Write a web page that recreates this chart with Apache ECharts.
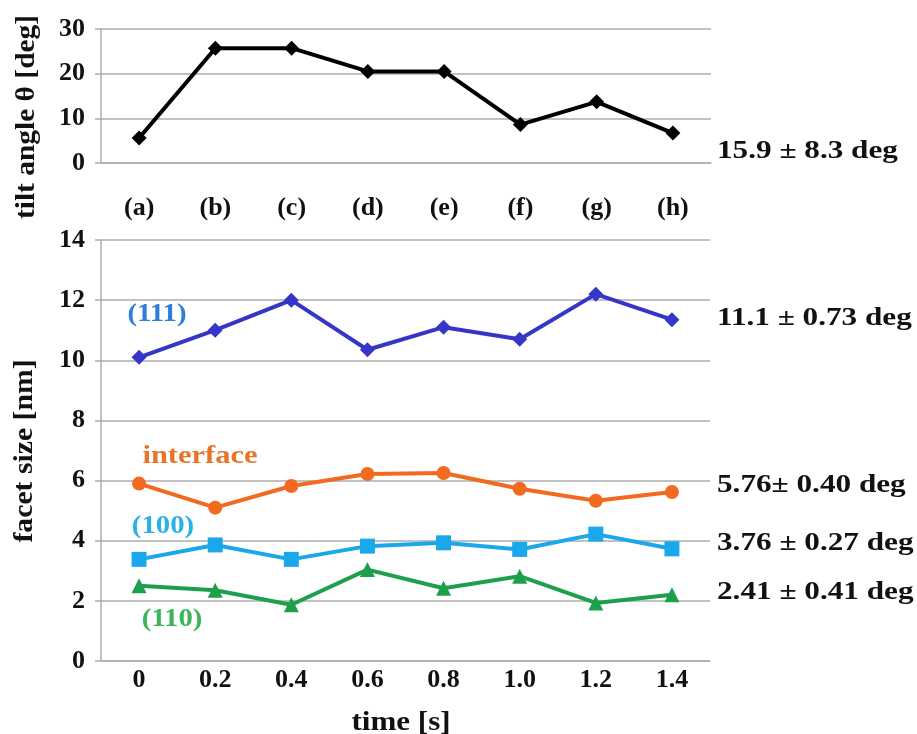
<!DOCTYPE html>
<html>
<head>
<meta charset="utf-8">
<script src="https://cdn.jsdelivr.net/npm/echarts@6/dist/echarts.min.js"></script>
<style>
html,body{margin:0;padding:0;background:#fff;}
#chart{width:917px;height:734px;}
</style>
</head>
<body>
<div id="chart"></div>
<script>
// ---- data ----
var tiltCategories = ['(a)','(b)','(c)','(d)','(e)','(f)','(g)','(h)'];
var tiltAngle = [5.6, 25.7, 25.7, 20.5, 20.5, 8.6, 13.7, 6.7];
var timeLabels = ['0','0.2','0.4','0.6','0.8','1.0','1.2','1.4'];
var facet111 = [10.1, 11.0, 12.0, 10.35, 11.1, 10.7, 12.2, 11.35];
var facetInterface = [5.9, 5.1, 5.82, 6.22, 6.25, 5.73, 5.33, 5.62];
var facet100 = [3.38, 3.86, 3.38, 3.82, 3.93, 3.71, 4.22, 3.73];
var facet110 = [2.5, 2.35, 1.87, 3.04, 2.42, 2.82, 1.93, 2.2];
var annotations = ['15.9 \u00b1 8.3 deg','11.1 \u00b1 0.73 deg','5.76\u00b1 0.40 deg','3.76 \u00b1 0.27 deg','2.41 \u00b1 0.41 deg'];

var FF = '"Liberation Serif","Times New Roman",serif';
var gridGray = '#adadad';
var tickFont = {fontFamily: FF, fontWeight: 'bold', fontSize: 26, color: '#111'};

function yAx(gi, min, max, interval){
  return {
    type: 'value', gridIndex: gi, min: min, max: max, interval: interval,
    axisLine: {show: true, lineStyle: {color: gridGray, width: 1.5}},
    axisTick: {show: true, length: 6, lineStyle: {color: gridGray, width: 1.5}},
    splitLine: {show: true, lineStyle: {color: gridGray, width: 1.5}},
    axisLabel: Object.assign({margin: 16}, tickFont)
  };
}
function xAx(gi, data, margin){
  return {
    type: 'category', gridIndex: gi, data: data, boundaryGap: true,
    axisLine: {show: true, lineStyle: {color: gridGray, width: 1.5}},
    axisTick: {show: false},
    splitLine: {show: false},
    axisLabel: Object.assign({margin: margin}, tickFont, {fontSize: 26})
  };
}
function lineSeries(name, data, color, symbol, size, xi){
  return {
    name: name, type: 'line', xAxisIndex: xi, yAxisIndex: xi, data: data,
    symbol: symbol, symbolSize: size, showAllSymbol: true,
    lineStyle: {color: color, width: 4},
    itemStyle: {color: color},
    z: 5
  };
}
function txt(x, y, text, color, size, align, rot, sx){
  return {
    type: 'text', x: x, y: y, rotation: rot || 0, scaleX: sx || 1, z: 10,
    style: {text: text, fill: color, font: 'bold ' + size + 'px ' + FF,
      textAlign: align || 'left', textVerticalAlign: 'middle'}
  };
}

var chart = echarts.init(document.getElementById('chart'), null, {renderer: 'canvas'});
chart.setOption({
  backgroundColor: '#fff',
  animation: false,
  grid: [
    {left: 101, right: 206, top: 29, height: 134},
    {left: 101, right: 207, top: 240, height: 421}
  ],
  xAxis: [ xAx(0, tiltCategories, 32), xAx(1, timeLabels, 6) ],
  yAxis: [ yAx(0, 0, 30, 10), yAx(1, 0, 14, 2) ],
  series: [
    lineSeries('tilt', tiltAngle, '#000000', 'diamond', 15, 0),
    lineSeries('(111)', facet111, '#3535c8', 'diamond', 15, 1),
    lineSeries('interface', facetInterface, '#f26a1f', 'circle', 14, 1),
    lineSeries('(100)', facet100, '#1ba8ea', 'rect', 15, 1),
    lineSeries('(110)', facet110, '#1e9f4c', 'triangle', 15, 1)
  ],
  graphic: [
    txt(27, 117, 'tilt angle \u03b8 [deg]', '#111', 27, 'center', Math.PI/2, 1.09),
    txt(25, 451, 'facet size [nm]', '#111', 27, 'center', Math.PI/2, 1.1),
    txt(401, 723, 'time [s]', '#111', 27, 'center', 0, 1.15),
    txt(717, 151, annotations[0], '#111', 26, 'left', 0, 1.2),
    txt(717, 318, annotations[1], '#111', 26, 'left', 0, 1.2),
    txt(717, 485, annotations[2], '#111', 26, 'left', 0, 1.2),
    txt(717, 543, annotations[3], '#111', 26, 'left', 0, 1.2),
    txt(717, 592, annotations[4], '#111', 26, 'left', 0, 1.2),
    txt(157, 315, '(111)', '#2f7fd8', 25, 'center', 0, 1.15),
    txt(200, 457, 'interface', '#e8742a', 25, 'center', 0, 1.22),
    txt(163, 527, '(100)', '#2ab2e6', 25, 'center', 0, 1.15),
    txt(172, 620, '(110)', '#3cb55a', 25, 'center', 0, 1.15)
  ]
});
</script>
</body>
</html>
